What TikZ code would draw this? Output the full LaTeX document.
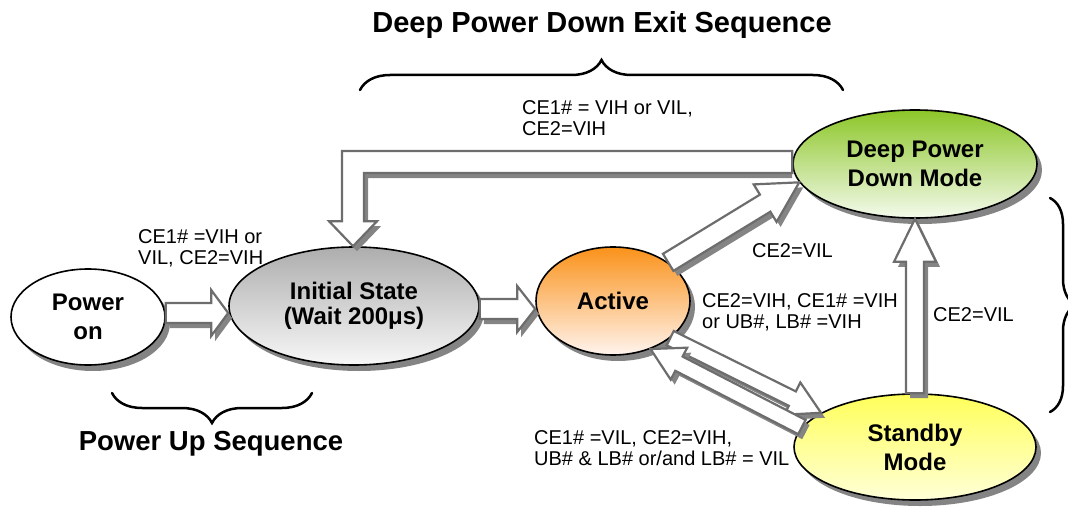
\documentclass[tikz,border=0pt]{standalone}
\usepackage{fontspec}
\setmainfont{Liberation Sans}
\usetikzlibrary{calc,shapes.geometric,shadows,decorations.pathreplacing}

\definecolor{arrgray}{HTML}{6D6D6D}
\definecolor{shadegray}{HTML}{848484}

\tikzset{
  state/.style={ellipse, draw=black, line width=1.6pt, inner sep=0pt, align=center,
    font=\fontsize{24}{29}\selectfont\bfseries,
    drop shadow={shadow xshift=5pt, shadow yshift=-6pt, fill=shadegray, opacity=1}},
  cond/.style={anchor=north west, inner sep=0pt, align=left, font=\fontsize{20}{21}\selectfont},
  heading/.style={font=\fontsize{#1}{31}\selectfont\bfseries},
  arrbody/.style={fill=white, draw=arrgray, line width=2.2pt},
  arrshadow/.style={fill=shadegray},
  curly/.style={decorate, decoration={brace, amplitude=#1}, line width=2.5pt, line cap=round},
}

\newcommand{\blockarrow}[5]{%
  \fill[arrshadow] let \p1=(#1), \p2=(#2), \n1={atan2(\y2-\y1,\x2-\x1)},
    \n2={veclen(\x2-\x1,\y2-\y1)} in [shift={(\p1)}, xshift=4pt, yshift=-5pt, rotate=\n1]
    (0,#3) -- (\n2-#5,#3) -- (\n2-#5,#4) -- (\n2,0) -- (\n2-#5,-#4) -- (\n2-#5,-#3) -- (0,-#3) -- cycle;
  \filldraw[arrbody] let \p1=(#1), \p2=(#2), \n1={atan2(\y2-\y1,\x2-\x1)},
    \n2={veclen(\x2-\x1,\y2-\y1)} in [shift={(\p1)}, rotate=\n1]
    (0,#3) -- (\n2-#5,#3) -- (\n2-#5,#4) -- (\n2,0) -- (\n2-#5,-#4) -- (\n2-#5,-#3) -- (0,-#3) -- cycle;
}

\begin{document}
\begin{tikzpicture}[x=1pt,y=-1pt]
\useasboundingbox (0,0) rectangle (1068,508);
\clip (0,0) rectangle (1068,508);

\node[state, minimum width=154pt, minimum height=96pt, fill=white] (pwr) at (88,317) {Power\\on};
\node[state, minimum width=250pt, minimum height=118pt, top color=black!32, bottom color=black!3] (init) at (354,306) {Initial State\\[-4pt](Wait 200μs)};
\node[state, minimum width=154pt, minimum height=108pt, top color={rgb,255:red,250;green,146;blue,26}, bottom color={rgb,255:red,255;green,244;blue,238}] (act) at (613,301) {Active};
\node[state, minimum width=244pt, minimum height=108pt, top color={rgb,255:red,140;green,198;blue,40}, bottom color={rgb,255:red,244;green,250;blue,236}] (dpd) at (915,164) {Deep Power\\Down Mode};
\node[state, minimum width=242pt, minimum height=106pt, top color={rgb,255:red,255;green,255;blue,90}, bottom color={rgb,255:red,255;green,255;blue,215}] (stby) at (915,447) {Standby\\Mode};

\blockarrow{[yshift=4pt]pwr.east}{[yshift=-7pt]init.west}{10}{23}{17}
\blockarrow{[yshift=-3pt]init.east}{[yshift=-8pt]act.west}{10}{23}{18}
\blockarrow{act.35}{dpd.189}{10}{22}{40}
\blockarrow{stby.north}{dpd.south}{9}{21}{43}
\blockarrow{act.-33}{stby.160}{8}{18}{32}
\blockarrow{stby.170}{act.-52}{8}{18}{32}

\fill[arrshadow] let \p1=([yshift=2pt]dpd.west), \p2=([xshift=-1pt]init.north) in [xshift=4pt, yshift=-5pt]
  (\x1-4pt,\y1+11pt) -- (\x2-11pt,\y1+11pt) -- (\x2-11pt,\y2+25pt) -- (\x2-24pt,\y2+25pt) -- (\x2,\y2)
  -- (\x2+24pt,\y2+25pt) -- (\x2+11pt,\y2+25pt) -- (\x2+11pt,\y1-11pt) -- (\x1-4pt,\y1-11pt) -- cycle;
\filldraw[arrbody] let \p1=([yshift=2pt]dpd.west), \p2=([xshift=-1pt]init.north) in
  (\x1,\y1+11pt) -- (\x2-11pt,\y1+11pt) -- (\x2-11pt,\y2+25pt) -- (\x2-24pt,\y2+25pt) -- (\x2,\y2)
  -- (\x2+24pt,\y2+25pt) -- (\x2+11pt,\y2+25pt) -- (\x2+11pt,\y1-11pt) -- (\x1,\y1-11pt) -- cycle;

\node[cond] (lpwr) at (138,229) {CE1\# =VIH or\\VIL, CE2=VIH};
\node[cond] (lexit) at (522,100) {CE1\# = VIH or VIL,\\CE2=VIH};
\node[cond] (ldpd) at (752,243) {CE2=VIL};
\node[cond] (lstby) at (702,293) {CE2=VIH, CE1\# =VIH\\or UB\#, LB\# =VIH};
\node[cond] (lup) at (933,307) {CE2=VIL};
\node[cond] (lact) at (534,430) {CE1\# =VIL, CE2=VIH,\\UB\# \& LB\# or/and LB\# = VIL};

\node[heading=29] (exitseq) at (602,25) {Deep Power Down Exit Sequence};
\node[heading=27.5] (upseq) at (211,444) {Power Up Sequence};

\draw[curly=30pt] (360,90) -- (843,90);
\draw[curly=30pt] (312,393) -- (112,393);
\draw[curly=26pt] (1050,198) -- (1050,412);
\end{tikzpicture}
\end{document}
